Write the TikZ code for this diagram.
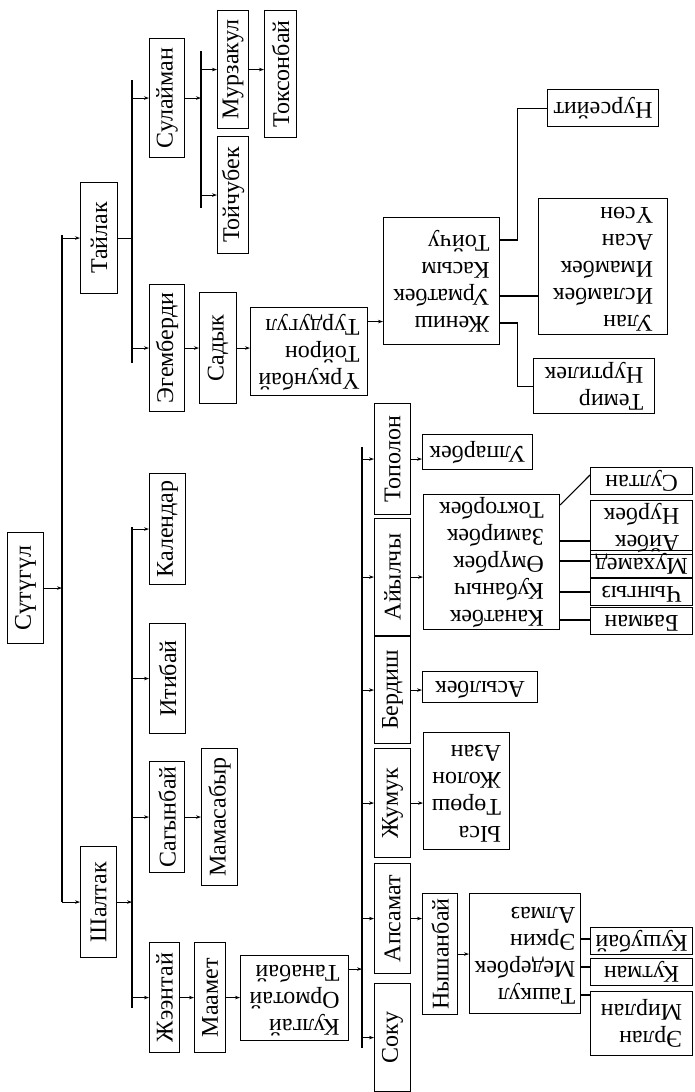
\documentclass[tikz,border=0pt]{standalone}
\usepackage{fontspec}
\setmainfont{Liberation Serif}
\usepackage{graphicx}
\usetikzlibrary{arrows.meta}
\newcommand\vt[1]{\rotatebox{90}{#1}}
\newcommand\ut[1]{\rotatebox{180}{\begin{tabular}{@{}l@{}}#1\end{tabular}}}
\newcommand\bx[6]{\pgfmathsetmacro\bxw{#4-#2}\pgfmathsetmacro\bxh{#5-#3}%
  \node[famebox, minimum width=\bxw pt, minimum height=\bxh pt] (#1) at (#2,#3) {#6};}
\tikzset{
  famebox/.style={draw, line width=1.1pt, inner sep=0pt, anchor=north west,
    font=\fontsize{24}{27}\selectfont},
  ln/.style={line width=1.1pt},
  arr/.style={line width=1.1pt, -{Stealth[length=5pt,width=3.5pt]}}
}
\begin{document}
\begin{tikzpicture}[x=1pt,y=-1pt]
\useasboundingbox (0,0) rectangle (694,1092);
% root
\bx{sut}{7}{532}{43}{643}{\vt{Сүтүгүл}}
% level 1
\bx{tai}{80}{182}{117}{293}{\vt{Тайлак}}
\bx{sha}{80}{846}{116}{957}{\vt{Шалтак}}
% Тайлак branch
\bx{sul}{149}{38}{184}{157}{\vt{Сулайман}}
\bx{ege}{149}{284}{184}{411}{\vt{Эгемберди}}
\bx{mur}{217}{10}{248}{128}{\vt{Мурзакул}}
\bx{toi}{217}{136}{248}{253}{\vt{Тойчубек}}
\bx{tok}{264}{10}{296}{137}{\vt{Токсонбай}}
\bx{sad}{199}{292}{236}{403}{\vt{Садык}}
\bx{urk}{250}{307}{367}{395}{\ut{Үркунбай\\Тойрон\\Турдугул}}
\bx{jen}{383}{217}{499}{344}{\ut{Жениш\\Урматбек\\Касым\\Тойчу}}
\bx{nur}{547}{89}{658}{126}{\ut{Нурсейит}}
\bx{ula}{538}{198}{667}{334}{\ut{Улан\\Исламбек\\Имамбек\\Асан\\Үсөн}}
\bx{tem}{533}{358}{654}{413}{\ut{Темир\\Нуртилек}}
% Шалтак branch
\bx{kal}{149}{473}{185}{584}{\vt{Календар}}
\bx{iti}{149}{623}{185}{733}{\vt{Итибай}}
\bx{sag}{149}{761}{184}{872}{\vt{Сагынбай}}
\bx{mam}{201}{748}{237}{885}{\vt{Мамасабыр}}
\bx{jee}{149}{942}{179}{1052}{\vt{Жээнтай}}
\bx{maa}{194}{942}{225}{1052}{\vt{Маамет}}
\bx{kul}{240}{955}{348}{1040}{\ut{Кулгай\\Ормотай\\Танабай}}
\bx{top}{374}{403}{410}{514}{\vt{Тополон}}
\bx{ayl}{374}{518}{410}{635}{\vt{Айылчы}}
\bx{ber}{374}{636}{410}{743}{\vt{Бердиш}}
\bx{jum}{374}{748}{410}{857}{\vt{Жумук}}
\bx{aps}{374}{863}{410}{973}{\vt{Апсамат}}
\bx{sok}{374}{983}{410}{1091}{\vt{Соку}}
\bx{ulp}{422}{434}{532}{469}{\ut{Улпарбек}}
\bx{kan}{423}{494}{559}{629}{\ut{Канатбек\\Кубаныч\\Өмүрбек\\Замирбек\\Токторбек}}
\bx{sult}{590}{467}{692}{492}{\ut{Султан}}
\bx{ayb}{590}{500}{692}{548}{\ut{Айбек\\Нурбек}}
\bx{muh}{590}{550}{692}{575}{\ut{Мухамед}}
\bx{chy}{590}{578}{692}{603}{\ut{Чынгыз}}
\bx{bay}{590}{607}{692}{631}{\ut{Баяман}}
\bx{asy}{422}{671}{537}{702}{\ut{Асылбек}}
\bx{ysa}{423}{732}{509}{849}{\ut{Ыса\\Төрөш\\Жолон\\Азан}}
\bx{nys}{422}{893}{457}{1014}{\vt{Нышанбай}}
\bx{tas}{469}{893}{580}{1013}{\ut{Ташкул\\Медербек\\Эркин\\Алмаз}}
\bx{kush}{590}{927}{692}{952}{\ut{Кушубай}}
\bx{kut}{590}{958}{692}{982}{\ut{Кутман}}
\bx{erl}{590}{991}{692}{1055}{\ut{Эрлан\\Мирлан}}
% trunk
\coordinate (trT) at (62,235);
\coordinate (trB) at (62,902);
\draw[ln] (trT) -- (trB);
\draw[arr] (sut.east) -- (sut.east -| trT);
\draw[arr] (trT |- tai.west) -- (tai.west);
\draw[arr] (trT |- sha.west) -- (sha.west);
% Тайлак
\coordinate (b1t) at (132,80);
\coordinate (b1b) at (132,363);
\draw[ln] (b1t) -- (b1b);
\draw[ln] (tai.east) -- (tai.east -| b1t);
\draw[arr] (b1t |- sul.west) -- (sul.west);
\draw[arr] (b1t |- ege.west) -- (ege.west);
\coordinate (b2t) at (201,51);
\coordinate (b2b) at (201,208);
\draw[ln] (b2t) -- (b2b);
\draw[arr] (sul.east) -- (sul.east -| b2t);
\draw[arr] (b2t |- mur.west) -- (mur.west);
\draw[arr] (b2t |- toi.west) -- (toi.west);
\draw[arr] (mur.east) -- (mur.east -| tok.west);
\draw[arr] (ege.east) -- (ege.east -| sad.west);
\draw[arr] (sad.east) -- (sad.east -| urk.west);
\draw[arr] ([yshift=30pt]urk.east) coordinate (t1) -- (t1 -| jen.west);
\draw[ln] ([yshift=-23pt]jen.north east) -- ++(17,0) |- (nur.west);
\draw[ln] ([yshift=-79pt]jen.north east) coordinate (t2) -- (t2 -| ula.west);
\draw[ln] ([yshift=-106pt]jen.north east) -- ++(17,0) |- (tem.west);
% Шалтак
\coordinate (b3t) at (132,527);
\coordinate (b3b) at (132,1008);
\draw[ln] (b3t) -- (b3b);
\draw[arr] (sha.east) -- (sha.east -| b3t);
\draw[arr] (b3t |- kal.west) -- (kal.west);
\draw[arr] (b3t |- iti.west) -- (iti.west);
\draw[arr] (b3t |- sag.west) -- (sag.west);
\draw[arr] (b3t |- jee.west) -- (jee.west);
\draw[arr] (sag.east) -- (sag.east -| mam.west);
\draw[arr] (jee.east) -- (jee.east -| maa.west);
\draw[arr] (maa.east) -- (maa.east -| kul.west);
\coordinate (b4t) at (362,447);
\coordinate (b4b) at (362,1048);
\draw[ln] (b4t) -- (b4b);
\draw[arr] ([yshift=29pt]kul.east) coordinate (t3) -- (t3 -| b4t);
\draw[arr] (b4t |- top.west) -- (top.west);
\draw[arr] (b4t |- ayl.west) -- (ayl.west);
\draw[arr] (b4t |- ber.west) -- (ber.west);
\draw[arr] (b4t |- jum.west) -- (jum.west);
\draw[arr] (b4t |- aps.west) -- (aps.west);
\draw[arr] (b4t |- sok.west) -- (sok.west);
\draw[arr] (top.east) -- (top.east -| ulp.west);
\draw[arr] (ayl.east) -- (ayl.east -| kan.west);
\draw[arr] (ber.east) -- (ber.east -| asy.west);
\draw[arr] (jum.east) -- (jum.east -| ysa.west);
\draw[arr] (aps.east) -- (aps.east -| nys.west);
\draw[arr] (nys.east) -- (nys.east -| tas.west);
% Айылчы grandchildren
\draw[ln] ([yshift=-11pt]kan.north east) -- ([yshift=-8pt]sult.north west);
\draw[ln] ([yshift=-47pt]kan.north east) coordinate (t4) -- (t4 -| ayb.west);
\draw[ln] ([yshift=-67pt]kan.north east) coordinate (t5) -- (t5 -| muh.west);
\draw[ln] ([yshift=-98pt]kan.north east) coordinate (t6) -- (t6 -| chy.west);
\draw[ln] ([yshift=-126pt]kan.north east) coordinate (t7) -- (t7 -| bay.west);
% Ташкул children
\draw[ln] ([yshift=-46pt]tas.north east) coordinate (t8) -- (t8 -| kush.west);
\draw[ln] ([yshift=-74pt]tas.north east) coordinate (t9) -- (t9 -| kut.west);
\draw[ln] ([yshift=-102pt]tas.north east) coordinate (t10) -- (t10 -| erl.west);
\end{tikzpicture}
\end{document}
